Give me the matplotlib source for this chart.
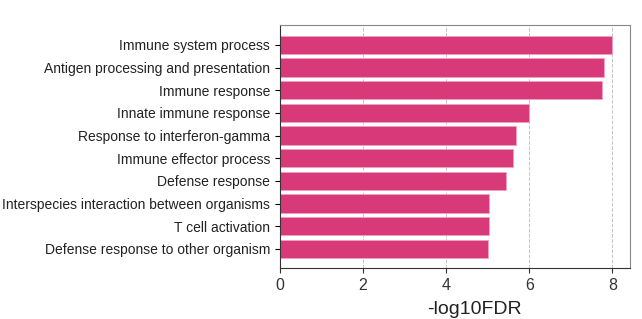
import numpy as np
import matplotlib.pyplot as plt

plt.rcParams['font.family'] = ['Liberation Sans', 'DejaVu Sans']

terms = ['Immune system process', 'Antigen processing and presentation',
         'Immune response', 'Innate immune response',
         'Response to interferon-gamma', 'Immune effector process',
         'Defense response', 'Interspecies interaction between organisms',
         'T cell activation', 'Defense response to other organism']
neglog_fdr = [8.0, 7.8, 7.75, 5.99, 5.67, 5.6, 5.43, 5.04, 5.02, 5.0]

fig = plt.figure(figsize=(6.42, 3.19), dpi=100)
ax = fig.add_axes([0.436, 0.16, 0.545, 0.762])

y = np.arange(len(terms))
ax.barh(y, neglog_fdr, height=0.8, color='#d83a79', edgecolor='#f0a0c0',
        linewidth=0.6, zorder=2)
ax.set_yticks(y)
ax.set_yticklabels(terms, fontsize=10, color='#222222')
ax.set_ylim(len(terms) - 1 + 0.84, -0.88)
ax.set_xlim(0, 8.42)
ax.set_xticks([0, 2, 4, 6, 8])
ax.tick_params(axis='x', labelsize=11.5, colors='#333333')
ax.set_xlabel('-log10FDR', fontsize=14, color='#222222')
ax.xaxis.set_label_coords(0.557, -0.135)
ax.grid(axis='x', linestyle='--', color='#c4c4c4', linewidth=0.7, zorder=0)
for s in ['top', 'right']:
    ax.spines[s].set_color('#888888')
for s in ['left', 'bottom']:
    ax.spines[s].set_color('#333333')

fig.savefig('out.png', dpi=100)
